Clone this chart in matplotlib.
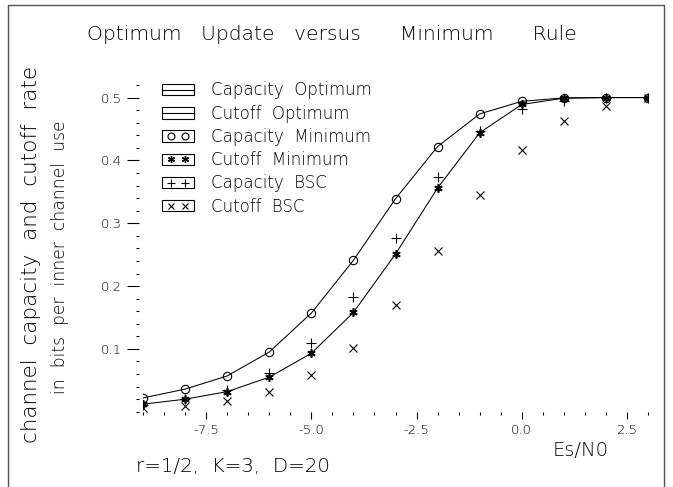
import numpy as np
import matplotlib
matplotlib.use("Agg")
import matplotlib.pyplot as plt
from matplotlib.patches import Rectangle
from matplotlib.lines import Line2D
from matplotlib.ticker import MultipleLocator

# Es/N0 grid in dB
es_n0 = [-9, -8, -7, -6, -5, -4, -3, -2, -1, 0, 1, 2, 3]

# curves
capacity_optimum = [0.022, 0.036, 0.057, 0.095, 0.157, 0.241, 0.339, 0.422, 0.474, 0.494, 0.4995, 0.5, 0.5]
cutoff_optimum = [0.012, 0.020, 0.032, 0.055, 0.093, 0.158, 0.251, 0.356, 0.444, 0.489, 0.499, 0.5, 0.5]
capacity_minimum = [0.022, 0.036, 0.057, 0.095, 0.157, 0.241, 0.339, 0.422, 0.474, 0.494, 0.4995, 0.5, 0.5]
cutoff_minimum = [0.012, 0.020, 0.032, 0.055, 0.093, 0.158, 0.251, 0.356, 0.444, 0.489, 0.499, 0.5, 0.5]
capacity_bsc = [0.010, 0.021, 0.034, 0.061, 0.109, 0.182, 0.276, 0.374, 0.446, 0.482, 0.495, 0.499, 0.5]
cutoff_bsc = [0.006, 0.009, 0.017, 0.032, 0.059, 0.101, 0.170, 0.256, 0.345, 0.417, 0.463, 0.486, 0.4995]

legend_labels = ["Capacity  Optimum", "Cutoff  Optimum", "Capacity  Minimum",
                 "Cutoff  Minimum", "Capacity  BSC", "Cutoff  BSC"]

plt.rcParams["axes.unicode_minus"] = False
plt.rcParams["font.family"] = "DejaVu Sans"
plt.rcParams["font.weight"] = "light"

W, H = 673, 487
fig = plt.figure(figsize=(W / 100, H / 100), dpi=100)


def fp(px, py):
    # pixel position (from top-left) -> figure fraction
    return px / W, 1 - py / H


ax = fig.add_axes([143 / W, 1 - 411.75 / H, (648 - 143) / W, (411.75 - 85) / H])
for s in ax.spines.values():
    s.set_visible(False)
ax.spines["left"].set_position(("outward", 3))

ln_kw = dict(color="black", lw=0.75)
ax.plot(es_n0, capacity_optimum, **ln_kw)
ax.plot(es_n0, cutoff_optimum, **ln_kw)

mk = dict(ls="none", color="black")
ax.plot(es_n0, capacity_minimum, marker="o", ms=6, mfc="none", mew=0.8, **mk)
ax.plot(es_n0, cutoff_minimum, marker=(6, 2, 0), ms=6, mew=1.2, **mk)
ax.plot(es_n0, capacity_bsc, marker="+", ms=7, mew=0.8, **mk)
ax.plot(es_n0, cutoff_bsc, marker="x", ms=6, mew=0.8, **mk)

ax.set_xlim(-9, 3)
ax.set_ylim(0, 0.52)
ax.xaxis.set_minor_locator(MultipleLocator(0.5))
ax.yaxis.set_minor_locator(MultipleLocator(0.02))
ax.set_xticks([-7.5, -5.0, -2.5, 0.0, 2.5])
ax.set_yticks([0.1, 0.2, 0.3, 0.4, 0.5])
ax.set_xticklabels(["-7.5", "-5.0", "-2.5", "0.0", "2.5"])
ax.set_yticklabels(["0.1", "0.2", "0.3", "0.4", "0.5"])
ax.tick_params(axis="x", which="major", direction="out", length=5, width=0.8, pad=3.5, labelsize=9.5)
ax.tick_params(axis="x", which="minor", direction="out", length=2, width=0.8)
ax.tick_params(axis="y", which="major", direction="out", length=9, width=0.8, pad=3, labelsize=9.5)
ax.tick_params(axis="y", which="minor", direction="out", length=2.2, width=0.8)

# frame around the whole picture (open at the bottom)
fx = [fp(8, 490)[0], fp(8, 5)[0], fp(664, 5)[0], fp(664, 490)[0]]
fy = [fp(8, 490)[1], fp(8, 5)[1], fp(664, 5)[1], fp(664, 490)[1]]
fig.add_artist(Line2D(fx, fy, color="#555555", lw=1.0, transform=fig.transFigure))

# title and labels
fig.text(*fp(87, 40), "Optimum   Update   versus      Minimum      Rule",
         fontsize=14.6, ha="left", va="baseline")
fig.text(*fp(31, 254), "channel  capacity  and  cutoff  rate",
         fontsize=15.5, rotation=90, ha="center", va="center")
fig.text(*fp(60, 257), "in  bits  per  inner  channel  use",
         fontsize=12.3, rotation=90, ha="center", va="center")
fig.text(*fp(581, 451), "Es/N0", fontsize=14, ha="center", va="center")
fig.text(*fp(136, 467), "r=1/2,  K=3,  D=20", fontsize=14.3, ha="left", va="center")

# hand-drawn legend
row_y = [89.5, 113, 136, 159, 182.5, 205.8]
box_l, box_r, box_h = 162, 194, 11
leg_markers = [None, None, ("o", dict(mfc="none", ms=5, mew=0.8)),
               ((6, 2, 0), dict(ms=5, mew=1.0)), ("+", dict(ms=6, mew=0.8)),
               ("x", dict(ms=5, mew=0.8))]
for cy, lab, m in zip(row_y, legend_labels, leg_markers):
    x0, y0 = fp(box_l, cy + box_h / 2)
    x1, y1 = fp(box_r, cy - box_h / 2)
    fig.add_artist(Rectangle((x0, y0), x1 - x0, y1 - y0, fill=False, ec="black",
                             lw=0.8, transform=fig.transFigure))
    if m is None:
        a, b = fp(box_l, cy), fp(box_r, cy)
        fig.add_artist(Line2D([a[0], b[0]], [a[1], b[1]], color="black", lw=0.8,
                              transform=fig.transFigure))
    else:
        a, b = fp(171, cy), fp(185, cy)
        fig.add_artist(Line2D([a[0], b[0]], [a[1], b[1]], ls="none", marker=m[0],
                              color="black", transform=fig.transFigure, **m[1]))
    fig.text(*fp(211, cy + 6), lab, fontsize=12, ha="left", va="baseline")

fig.savefig("out.png", dpi=100)
